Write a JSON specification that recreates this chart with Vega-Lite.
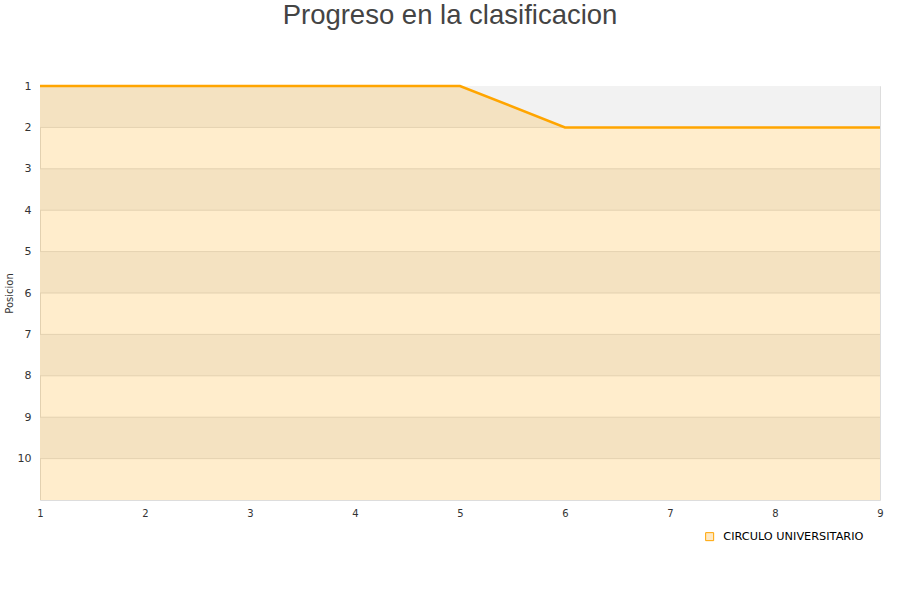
{
  "$schema": "https://vega.github.io/schema/vega-lite/v6.json",
  "width": 840,
  "height": 414,
  "autosize": "none",
  "padding": {"top": 86, "left": 40, "right": 20, "bottom": 100},
  "background": "white",
  "title": {
    "text": "Progreso en la clasificacion",
    "font": "Liberation Sans",
    "fontSize": 27.5,
    "fontWeight": "normal",
    "color": "#444444",
    "anchor": "middle",
    "dx": -10,
    "offset": 51
  },
  "config": {
    "view": {"stroke": "#dddddd", "strokeWidth": 1},
    "axis": {
      "labelFont": "DejaVu Sans",
      "labelFontSize": 11,
      "labelColor": "#333333",
      "labelFlush": false,
      "titleFont": "DejaVu Sans",
      "titleFontSize": 10,
      "titleFontWeight": "normal",
      "titleColor": "#333333",
      "ticks": false,
      "domain": false,
      "grid": false
    },
    "legend": {
      "labelFont": "DejaVu Sans",
      "labelFontSize": 11.3,
      "labelColor": "#000000"
    }
  },
  "datasets": {
    "bands": [
      {"desde": 1, "hasta": 2},
      {"desde": 3, "hasta": 4},
      {"desde": 5, "hasta": 6},
      {"desde": 7, "hasta": 8},
      {"desde": 9, "hasta": 10}
    ],
    "grid": [
      {"linea": 2}, {"linea": 3}, {"linea": 4}, {"linea": 5}, {"linea": 6},
      {"linea": 7}, {"linea": 8}, {"linea": 9}, {"linea": 10}
    ],
    "progreso": [
      {"jornada": 1, "posicion": 1, "equipo": "CIRCULO UNIVERSITARIO"},
      {"jornada": 2, "posicion": 1, "equipo": "CIRCULO UNIVERSITARIO"},
      {"jornada": 3, "posicion": 1, "equipo": "CIRCULO UNIVERSITARIO"},
      {"jornada": 4, "posicion": 1, "equipo": "CIRCULO UNIVERSITARIO"},
      {"jornada": 5, "posicion": 1, "equipo": "CIRCULO UNIVERSITARIO"},
      {"jornada": 6, "posicion": 2, "equipo": "CIRCULO UNIVERSITARIO"},
      {"jornada": 7, "posicion": 2, "equipo": "CIRCULO UNIVERSITARIO"},
      {"jornada": 8, "posicion": 2, "equipo": "CIRCULO UNIVERSITARIO"},
      {"jornada": 9, "posicion": 2, "equipo": "CIRCULO UNIVERSITARIO"}
    ]
  },
  "layer": [
    {
      "data": {"name": "bands"},
      "mark": {"type": "rect", "color": "#f2f2f2"},
      "encoding": {
        "y": {
          "field": "desde",
          "type": "quantitative",
          "title": "Posicion",
          "scale": {"domain": [1, 11], "reverse": true, "nice": false, "zero": false},
          "axis": {"values": [1, 2, 3, 4, 5, 6, 7, 8, 9, 10], "labelPadding": 9, "titlePadding": 3}
        },
        "y2": {"field": "hasta"}
      }
    },
    {
      "data": {"name": "grid"},
      "mark": {"type": "rule", "color": "#dddddd", "strokeWidth": 1},
      "encoding": {
        "y": {"field": "linea", "type": "quantitative", "title": "Posicion"}
      }
    },
    {
      "data": {"name": "progreso"},
      "mark": {"type": "area", "color": "#ffa500", "opacity": 0.2},
      "encoding": {
        "x": {
          "field": "jornada",
          "type": "quantitative",
          "title": null,
          "scale": {"domain": [1, 9], "nice": false, "zero": false},
          "axis": {"values": [1, 2, 3, 4, 5, 6, 7, 8, 9], "labelPadding": 8, "format": "d", "labelFontSize": 10}
        },
        "y": {"field": "posicion", "type": "quantitative", "title": "Posicion"},
        "y2": {"datum": 11}
      }
    },
    {
      "data": {"name": "progreso"},
      "mark": {"type": "line", "strokeWidth": 2.5},
      "encoding": {
        "x": {"field": "jornada", "type": "quantitative"},
        "y": {"field": "posicion", "type": "quantitative", "title": "Posicion"},
        "color": {
          "field": "equipo",
          "type": "nominal",
          "scale": {"range": ["#ffa500"]},
          "legend": {
            "title": null,
            "orient": "none",
            "legendX": 664,
            "legendY": 445,
            "symbolType": "square",
            "symbolSize": 64,
            "symbolStrokeWidth": 1,
            "symbolFillColor": "#ffe9c4",
            "labelOffset": 8
          }
        }
      }
    }
  ]
}
